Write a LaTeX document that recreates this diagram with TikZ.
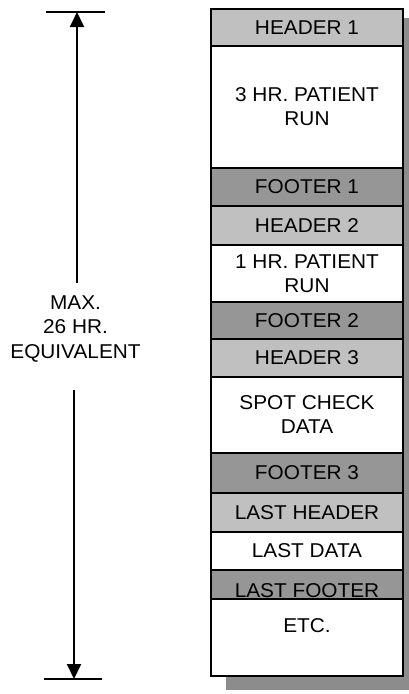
\documentclass[tikz,border=0pt]{standalone}
\usepackage{fontspec}
\setmainfont[FakeStretch=1.04]{Liberation Sans}
\usepackage{tikz}
\usetikzlibrary{positioning,arrows.meta}
\definecolor{headgray}{RGB}{192,192,192}
\definecolor{footgray}{RGB}{150,150,150}
\definecolor{shadowgray}{RGB}{140,140,140}

\begin{document}
\begin{tikzpicture}[x=1pt, y=-1pt,
    seg/.style={draw, line width=1.2pt, minimum width=192pt, inner sep=0pt, outer sep=0pt,
                font=\fontsize{20}{24}\selectfont, align=center},
    hdr/.style={seg, fill=headgray},
    ftr/.style={seg, fill=footgray},
    dat/.style={seg, fill=white},
    span/.style={line width=2pt},
]
\useasboundingbox (0,0) rectangle (409,694);

% shadow
\fill[shadowgray] (226,18) rectangle (409,690);

% blocks
\node[hdr, minimum height=37pt, anchor=north] (h1) at (307,9) {HEADER 1};
\node[dat, minimum height=122pt, below=0pt of h1] (d1) {3 HR. PATIENT\\RUN};
\node[ftr, minimum height=38pt, below=0pt of d1] (f1) {FOOTER 1};
\node[hdr, minimum height=39pt, below=0pt of f1] (h2) {HEADER 2};
\node[dat, minimum height=57pt, below=0pt of h2] (d2) {1 HR. PATIENT\\RUN};
\node[ftr, minimum height=37pt, below=0pt of d2] (f2) {FOOTER 2};
\node[hdr, minimum height=38pt, below=0pt of f2] (h3) {HEADER 3};
\node[dat, minimum height=76pt, below=0pt of h3] (d3) {SPOT CHECK\\DATA};
\node[ftr, minimum height=40pt, below=0pt of d3] (f3) {FOOTER 3};
\node[hdr, minimum height=39pt, below=0pt of f3] (lh) {LAST HEADER};
\node[dat, minimum height=38pt, below=0pt of lh] (ld) {LAST DATA};
\node[ftr, minimum height=29pt, text height=25pt, text depth=0pt, below=0pt of ld] (lf) {LAST FOOTER};
\node[dat, minimum height=77pt, text height=14pt, text depth=25pt, below=0pt of lf] (etc) {ETC.};

% span arrow
\coordinate (top) at (77,12);
\coordinate (bot) at (74,679);
\coordinate (gaptop) at (77,283);
\coordinate (gapbot) at (74,390);
\node[font=\fontsize{20}{24.5}\selectfont, align=center] (lbl) at (75.5,329) {MAX.\\26 HR.\\EQUIVALENT};
\draw[span, -{Triangle[length=15pt,width=14pt]}] (gaptop) -- (top);
\draw[span, -{Triangle[length=15pt,width=14pt]}] (gapbot) -- (bot);
\draw[span] (top) ++(-31,0) -- ++(59,0);
\draw[span] (bot) ++(-30,0) -- ++(58,0);

\end{tikzpicture}
\end{document}
